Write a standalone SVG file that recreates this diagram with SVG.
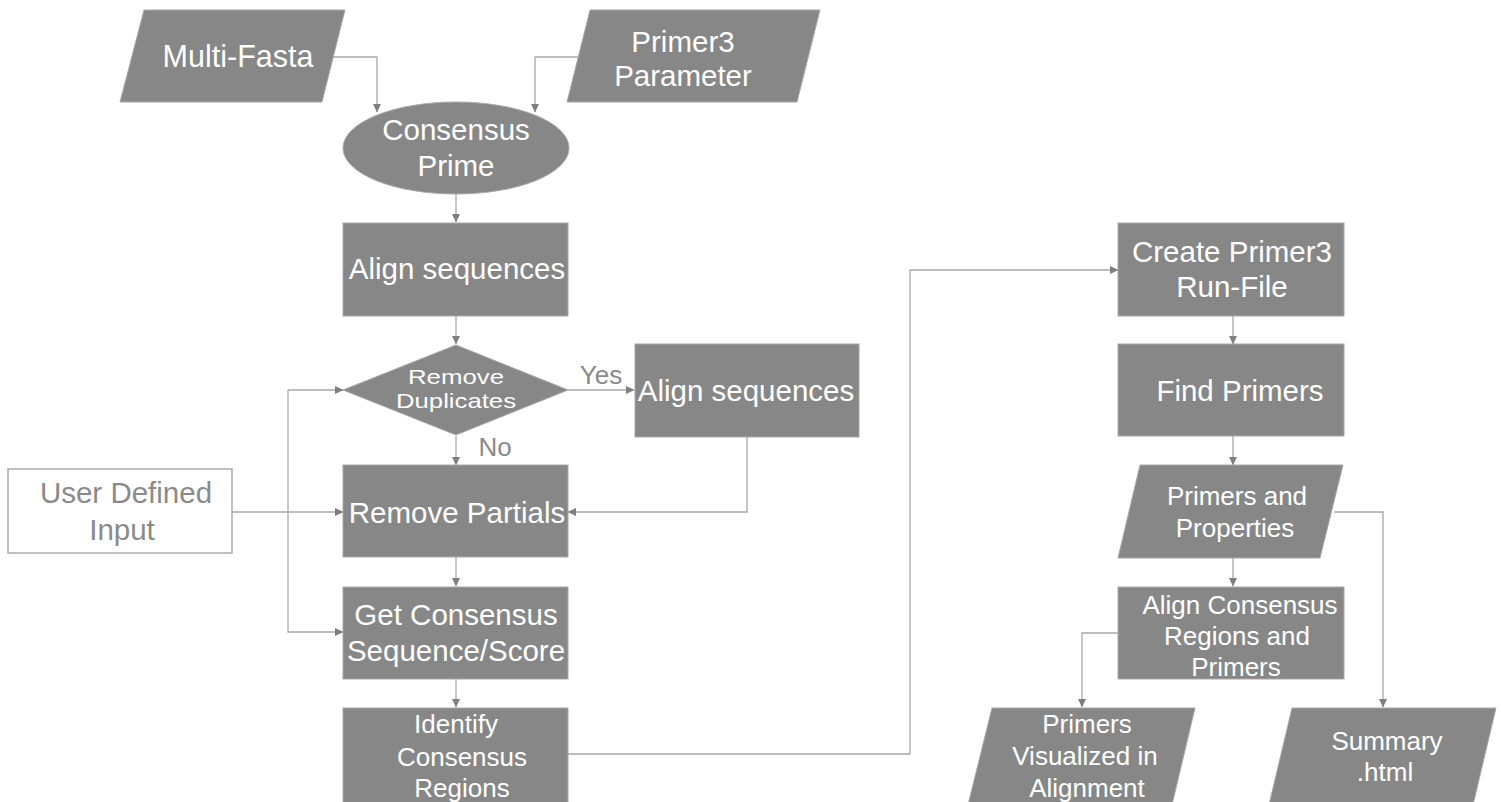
<svg xmlns="http://www.w3.org/2000/svg" width="1501" height="802" viewBox="0 0 1501 802">
<defs>
<marker id="arr" markerWidth="9" markerHeight="9" refX="8" refY="4.5" orient="auto" markerUnits="userSpaceOnUse">
<path d="M0,0.5 L8.5,4.5 L0,8.5 z" fill="#7f7f7f"/>
</marker>
<style>
.n{fill:#878787;stroke:#a8a8a8;stroke-width:1}
.t{fill:#ffffff;font-family:"Liberation Sans",Arial,sans-serif;font-size:29.5px;text-anchor:middle}
.s{font-size:26px}
.d{font-size:21px}
.g{fill:#8a8a8a;font-family:"Liberation Sans",Arial,sans-serif;font-size:29.5px;text-anchor:middle}
.ca{fill:none;stroke:#a8a8a8;stroke-width:1.3;marker-end:url(#arr)}
</style>
</defs>
<rect width="1501" height="802" fill="#ffffff"/>
<g id="connectors">
<path class="ca" d="M333,57 H377 V112"/>
<path class="ca" d="M578,57 H535 V112"/>
<path class="ca" d="M456,194 V222"/>
<path class="ca" d="M456,316 V344"/>
<path class="ca" d="M568,390 H634"/>
<path class="ca" d="M456,436 V465"/>
<path class="ca" d="M747,437 V512 H568"/>
<path class="ca" d="M232,512 H343"/>
<path class="ca" d="M288,390 H343"/>
<path class="ca" d="M288,390 V632 H343"/>
<path class="ca" d="M456,557 V586"/>
<path class="ca" d="M456,679 V707"/>
<path class="ca" d="M568,754 H910 V270 H1118"/>
<path class="ca" d="M1233,316 V344"/>
<path class="ca" d="M1233,436 V465"/>
<path class="ca" d="M1334,512 H1383 V707"/>
<path class="ca" d="M1233,557 V586"/>
<path class="ca" d="M1118,633 H1082 V707"/>
<text class="g" x="601" y="384" style="font-size:26px">Yes</text>
<text class="g" x="495" y="456" style="font-size:26px">No</text>
</g>
<g id="multi-fasta">
<polygon class="n" points="144,10 345,10 322,102 120,102"/>
<text class="t" x="238" y="67" style="font-size:30.5px">Multi-Fasta</text>
</g>
<g id="primer3-parameter">
<polygon class="n" points="590,10 820,10 797,102 567,102"/>
<text class="t" x="683" y="52">Primer3</text>
<text class="t" x="683" y="86">Parameter</text>
</g>
<g id="consensus-prime">
<ellipse class="n" cx="456" cy="148" rx="113" ry="46"/>
<text class="t" x="456" y="140">Consensus</text>
<text class="t" x="456" y="176">Prime</text>
</g>
<g id="align-sequences-1">
<rect class="n" x="343" y="223" width="225" height="93"/>
<text class="t" x="457" y="279">Align sequences</text>
</g>
<g id="remove-duplicates">
<polygon class="n" points="456,345 568,390 456,435 343,390"/>
<text class="t d" x="456" y="384" textLength="96" lengthAdjust="spacingAndGlyphs">Remove</text>
<text class="t d" x="456" y="408" textLength="120" lengthAdjust="spacingAndGlyphs">Duplicates</text>
</g>
<g id="align-sequences-2">
<rect class="n" x="635" y="344" width="224" height="93"/>
<text class="t" x="746" y="401">Align sequences</text>
</g>
<g id="user-defined-input">
<rect x="8" y="469" width="224" height="84" fill="#ffffff" stroke="#a0a0a0" stroke-width="1.3"/>
<text class="g" x="126" y="503">User Defined</text>
<text class="g" x="122" y="540">Input</text>
</g>
<g id="remove-partials">
<rect class="n" x="343" y="465" width="225" height="92"/>
<text class="t" x="457" y="523">Remove Partials</text>
</g>
<g id="get-consensus">
<rect class="n" x="343" y="587" width="225" height="92"/>
<text class="t" x="456" y="625">Get Consensus</text>
<text class="t" x="456" y="661">Sequence/Score</text>
</g>
<g id="identify-consensus-regions">
<rect class="n" x="343" y="708" width="225" height="100"/>
<text class="t s" x="456" y="733">Identify</text>
<text class="t s" x="462" y="766">Consensus</text>
<text class="t s" x="462" y="797">Regions</text>
</g>
<g id="create-primer3-run-file">
<rect class="n" x="1118" y="223" width="226" height="93"/>
<text class="t" x="1232" y="262">Create Primer3</text>
<text class="t" x="1232" y="297">Run-File</text>
</g>
<g id="find-primers">
<rect class="n" x="1118" y="344" width="226" height="92"/>
<text class="t" x="1240" y="401">Find Primers</text>
</g>
<g id="primers-and-properties">
<polygon class="n" points="1140,465 1343,465 1320,558 1118,558"/>
<text class="t s" x="1237" y="505">Primers and</text>
<text class="t s" x="1235" y="537">Properties</text>
</g>
<g id="align-consensus-regions">
<rect class="n" x="1118" y="587" width="226" height="92"/>
<text class="t s" x="1240" y="614">Align Consensus</text>
<text class="t s" x="1237" y="645">Regions and</text>
<text class="t s" x="1236" y="676">Primers</text>
</g>
<g id="primers-visualized">
<polygon class="n" points="992,708 1195,708 1172,805 968,805"/>
<text class="t s" x="1087" y="733">Primers</text>
<text class="t s" x="1085" y="765">Visualized in</text>
<text class="t s" x="1087" y="797">Alignment</text>
</g>
<g id="summary-html">
<polygon class="n" points="1292,708 1496,708 1473,805 1269,805"/>
<text class="t s" x="1387" y="750">Summary</text>
<text class="t s" x="1385" y="781">.html</text>
</g>
</svg>
